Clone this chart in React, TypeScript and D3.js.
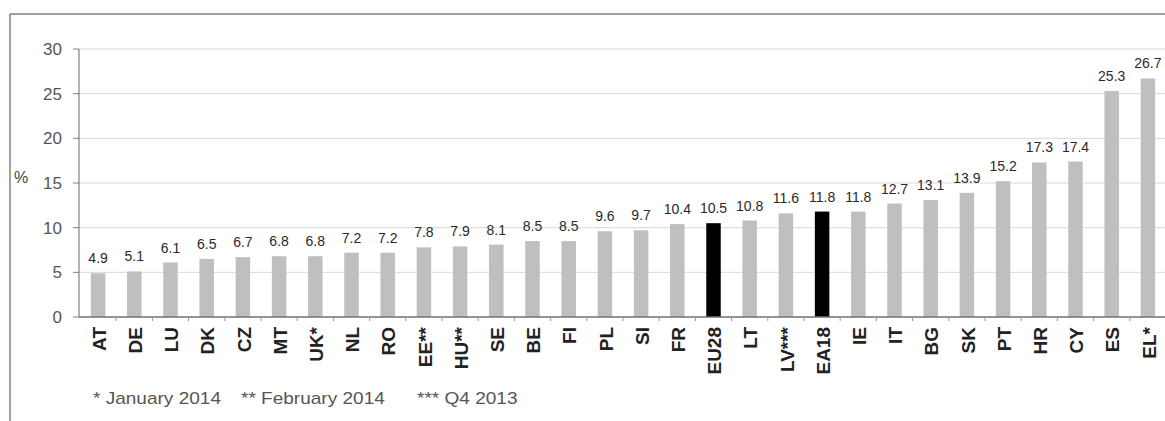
import React from "react";
import * as d3 from "d3";

const categories = ["AT","DE","LU","DK","CZ","MT","UK*","NL","RO","EE**","HU**","SE","BE","FI","PL","SI","FR","EU28","LT","LV***","EA18","IE","IT","BG","SK","PT","HR","CY","ES","EL*"];
const values = [4.9,5.1,6.1,6.5,6.7,6.8,6.8,7.2,7.2,7.8,7.9,8.1,8.5,8.5,9.6,9.7,10.4,10.5,10.8,11.6,11.8,11.8,12.7,13.1,13.9,15.2,17.3,17.4,25.3,26.7];
const highlighted = ["EU28","EA18"];
const yTicks = [0,5,10,15,20,25,30];
const footnotes = ["* January 2014", "** February 2014", "*** Q4 2013"];
const footnoteX = [93, 241, 417];

const W = 1165, H = 421;
const FONT = "'Liberation Sans', Arial, sans-serif";

export default function App() {
  const x = d3.scaleBand<string>().domain(categories).range([80, 1166]).paddingInner(0.6).paddingOuter(0.3);
  const y = d3.scaleLinear().domain([0, 30]).range([317, 49]);
  const step = x.step();
  const bw = x.bandwidth();
  return (
    <svg width={W} height={H} style={{ position: "absolute", left: 0, top: 0, background: "#fff" }}>
      {/* frame */}
      <line x1={10} y1={14} x2={W} y2={14} stroke="#808080" strokeWidth={1.5} />
      <line x1={10} y1={14} x2={10} y2={H} stroke="#808080" strokeWidth={1.5} />
      {/* grid */}
      {yTicks.filter(t => t > 0).map(t => (
        <line key={"g" + t} x1={79} x2={W} y1={y(t)} y2={y(t)} stroke="#d9d9d9" strokeWidth={1} />
      ))}
      {/* y axis */}
      <line x1={79} x2={79} y1={y(30)} y2={y(0)} stroke="#808080" strokeWidth={1.2} />
      {yTicks.map(t => (
        <g key={"t" + t}>
          <line x1={73} x2={79} y1={y(t)} y2={y(t)} stroke="#808080" />
          <text x={62} y={y(t)} dy="0.35em" textAnchor="end" fontFamily={FONT} fontSize={17} fill="#555">{t}</text>
        </g>
      ))}
      <text x={14} y={177} dy="0.35em" fontFamily={FONT} fontSize={16} fill="#444">%</text>
      {/* bars */}
      {categories.map((c, i) => (
        <rect key={"b" + c} x={x(c)} y={y(values[i])} width={bw} height={y(0) - y(values[i])}
          fill={highlighted.includes(c) ? "#000" : "#bfbfbf"} />
      ))}
      {/* value labels */}
      {categories.map((c, i) => (
        <text key={"v" + c} x={(x(c) as number) + bw / 2} y={y(values[i]) - 10} textAnchor="middle"
          fontFamily={FONT} fontSize={14} fill="#2a2a2a">{values[i].toFixed(1)}</text>
      ))}
      {/* x axis */}
      <line x1={79} x2={W} y1={y(0)} y2={y(0)} stroke="#707070" strokeWidth={1.5} />
      {categories.map(c => (
        <line key={"xt" + c} x1={(x(c) as number) + bw / 2 + step / 2} x2={(x(c) as number) + bw / 2 + step / 2}
          y1={y(0)} y2={y(0) + 4} stroke="#999" />
      ))}
      {categories.map(c => (
        <text key={"c" + c} transform={`translate(${(x(c) as number) + bw / 2 + 1},327) rotate(-90)`}
          textAnchor="end" dy="0.35em" fontFamily={FONT} fontWeight="bold" fontSize={19} fill="#222">{c}</text>
      ))}
      {/* footnotes */}
      {footnotes.map((f, i) => (
        <text key={"f" + i} transform={`translate(${footnoteX[i]},404) scale(1.12,1)`} fontFamily={FONT} fontSize={17} fill="#555">{f}</text>
      ))}
    </svg>
  );
}
